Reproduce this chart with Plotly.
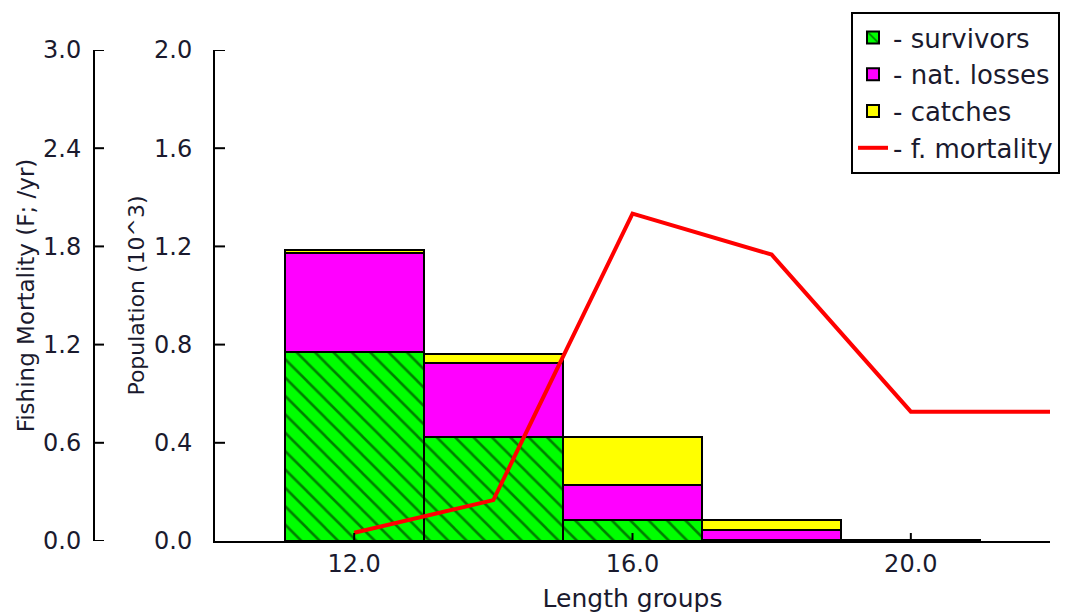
import plotly.graph_objects as go

# Length-group midpoints and stacked population components (thousands)
length_groups = [12, 14, 16, 18, 20]
survivors = [0.770, 0.425, 0.086, 0.005, 0.003]
nat_losses = [0.405, 0.300, 0.142, 0.040, 0.001]
catches = [0.012, 0.037, 0.197, 0.041, 0.001]

# Fishing mortality by length group (per year)
f_length = [12, 14, 16, 18, 20, 22]
f_mortality = [0.05, 0.25, 2.0, 1.75, 0.79, 0.79]

# Axis ticks
x_ticks = [12, 16, 20]
x_ticktext = ["12.0", "16.0", "20.0"]
pop_ticks = [0, 0.4, 0.8, 1.2, 1.6, 2.0]
pop_ticktext = ["0.0", "0.4", "0.8", "1.2", "1.6", "2.0"]
f_ticks = [0, 0.6, 1.2, 1.8, 2.4, 3.0]
f_ticktext = ["0.0", "0.6", "1.2", "1.8", "2.4", "3.0"]

FONT = "DejaVu Sans, Verdana, sans-serif"
TXT = "#1a1a2e"
PLOT_W = 1050            # paper width in px (plot area right edge)
POP_AXIS_X = 215 / PLOT_W
F_AXIS_X = 94 / PLOT_W

fig = go.Figure()

bar_line = dict(color="black", width=2)
fig.add_trace(go.Bar(
    x=length_groups, y=survivors, width=2, name="- survivors",
    marker=dict(color="#00ff00", line=bar_line,
                pattern=dict(shape="\\", fgcolor="black", bgcolor="#00ff00",
                             size=13, solidity=0.2)),
))
fig.add_trace(go.Bar(
    x=length_groups, y=nat_losses, width=2, name="- nat. losses",
    marker=dict(color="#ff00ff", line=bar_line),
))
fig.add_trace(go.Bar(
    x=length_groups, y=catches, width=2, name="- catches",
    marker=dict(color="#ffff00", line=bar_line),
))
fig.add_trace(go.Scatter(
    x=f_length, y=f_mortality, mode="lines", name="- f. mortality",
    line=dict(color="#ff0000", width=4), yaxis="y2", cliponaxis=False,
))


def axis_style(**extra):
    style = dict(
        showgrid=False, zeroline=False, showline=True, linecolor="black",
        linewidth=2, ticks="", tickmode="array",
        tickfont=dict(family=FONT, size=24, color=TXT),
    )
    style.update(extra)
    return style


# Inward-pointing tick marks, placed at the tick values of each axis
tick_line = dict(color="black", width=2)
tick_shapes = []
for v in f_ticks:
    tick_shapes.append(dict(type="line", xref="paper", xsizemode="pixel",
                            xanchor=F_AXIS_X, x0=0, x1=10, yref="y2", y0=v, y1=v,
                            line=tick_line, layer="above"))
for v in pop_ticks[1:]:
    tick_shapes.append(dict(type="line", xref="paper", xsizemode="pixel",
                            xanchor=POP_AXIS_X, x0=0, x1=10, yref="y", y0=v, y1=v,
                            line=tick_line, layer="above"))
for v in x_ticks:
    tick_shapes.append(dict(type="line", xref="x", x0=v, x1=v, yref="paper",
                            ysizemode="pixel", yanchor=0, y0=0, y1=8,
                            line=tick_line, layer="above"))

fig.update_layout(
    width=1084, height=613,
    margin=dict(l=0, r=34, t=50, b=72),
    paper_bgcolor="white", plot_bgcolor="white",
    barmode="stack", bargap=0,
    font=dict(family=FONT, size=24, color=TXT),
    xaxis=axis_style(
        domain=[POP_AXIS_X, 1], range=[10, 22],
        tickvals=x_ticks, ticktext=x_ticktext,
        title=dict(text="Length groups", font=dict(family=FONT, size=25, color=TXT),
                   standoff=19),
    ),
    yaxis=axis_style(
        range=[0, 2.0], tickvals=pop_ticks, ticktext=pop_ticktext,
        ticklabelstandoff=16,
        title=dict(text="Population (10^3)", font=dict(family=FONT, size=22, color=TXT),
                   standoff=3),
    ),
    yaxis2=axis_style(
        range=[0, 3.0], overlaying="y", anchor="free",
        position=F_AXIS_X, side="left",
        tickvals=f_ticks, ticktext=f_ticktext, ticklabelstandoff=7,
        title=dict(text="Fishing Mortality (F; /yr)",
                   font=dict(family=FONT, size=23, color=TXT), standoff=1),
    ),
    shapes=tick_shapes,
    legend=dict(
        x=851 / PLOT_W, y=(541 - 12) / 491, xanchor="left", yanchor="top",
        bordercolor="black", borderwidth=2, bgcolor="white",
        font=dict(family=FONT, size=26, color=TXT), traceorder="normal",
        tracegroupgap=0, itemwidth=30,
    ),
    showlegend=True,
)

fig.write_html("out.html")
